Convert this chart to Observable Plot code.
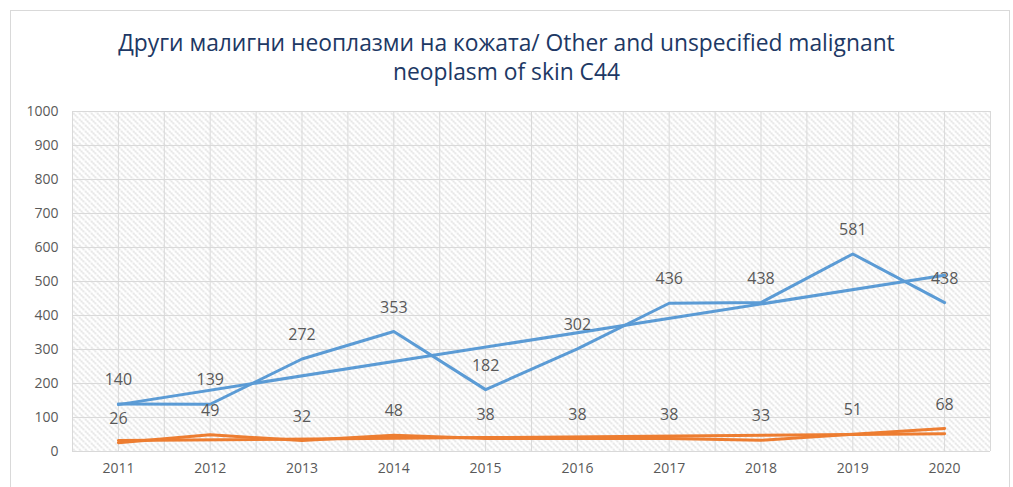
<!DOCTYPE html>
<html>
<head>
<meta charset="utf-8">
<script src="https://cdn.jsdelivr.net/npm/d3@7"></script>
<script src="https://cdn.jsdelivr.net/npm/@observablehq/plot@0.6"></script>
<style>
  html, body { margin: 0; padding: 0; background: #fff; }
  body { width: 1013px; height: 487px; position: relative; overflow: hidden; font-family: "Open Sans", sans-serif; }
  #frame { position: absolute; left: 10px; top: 10px; width: 1000px; height: 500px; border: 1px solid #d9d9d9; box-sizing: border-box; }
  #title { position: absolute; left: 0; top: 28px; width: 1013px; text-align: center; color: #203864; font-size: 22.8px; line-height: 29px; }
  #chart { position: absolute; left: 0; top: 100px; }
</style>
</head>
<body>
<div id="frame"></div>
<div id="title">Други малигни неоплазми на кожата/ Other and unspecified malignant<br>neoplasm of skin C44</div>
<div id="chart"></div>
<script>
const years = [2011, 2012, 2013, 2014, 2015, 2016, 2017, 2018, 2019, 2020];
const seriesA = [140, 139, 272, 353, 182, 302, 436, 438, 581, 438];
const seriesB = [26, 49, 32, 48, 38, 38, 38, 33, 51, 68];
const yTicks = [0, 100, 200, 300, 400, 500, 600, 700, 800, 900, 1000];

const dataA = years.map((y, i) => ({year: y, value: seriesA[i]}));
const dataB = years.map((y, i) => ({year: y, value: seriesB[i]}));
const vGrid = d3.range(years[0] - 0.5, years[years.length - 1] + 0.51, 0.5);

const blue = "#5B9BD5", orange = "#ED7D31", textGray = "#595959";

const chart = Plot.plot({
  width: 1013,
  height: 387,
  marginTop: 11,
  marginBottom: 36,
  marginLeft: 72,
  marginRight: 23,
  style: {fontFamily: "'Open Sans', sans-serif", background: "transparent"},
  x: {domain: [years[0] - 0.5, years[years.length - 1] + 0.5], label: null},
  y: {domain: [0, 1000], label: null},
  marks: [
    Plot.frame({fill: "url(#hatch)", stroke: null}),
    Plot.gridX(vGrid, {stroke: "#d9d9d9", strokeOpacity: 1}),
    Plot.gridY(yTicks, {stroke: "#d9d9d9", strokeOpacity: 1}),
    Plot.ruleY([0], {stroke: "#d9d9d9"}),
    Plot.axisX({ticks: years, tickFormat: d => String(d), tickSize: 0, tickPadding: 12, fontSize: 14, fill: textGray}),
    Plot.axisY({ticks: yTicks, tickFormat: d => String(d), tickSize: 0, tickPadding: 14, fontSize: 14, fill: textGray}),
    Plot.linearRegressionY(dataA, {x: "year", y: "value", stroke: blue, strokeWidth: 3, ci: 0}),
    Plot.line(dataA, {x: "year", y: "value", stroke: blue, strokeWidth: 3}),
    Plot.linearRegressionY(dataB, {x: "year", y: "value", stroke: orange, strokeWidth: 3, ci: 0}),
    Plot.line(dataB, {x: "year", y: "value", stroke: orange, strokeWidth: 3}),
    Plot.text(dataA, {x: "year", y: "value", text: d => String(d.value), dy: -24, fill: textGray, fontSize: 16}),
    Plot.text(dataB, {x: "year", y: "value", text: d => String(d.value), dy: -24, fill: textGray, fontSize: 16})
  ]
});

const ns = "http://www.w3.org/2000/svg";
const defs = document.createElementNS(ns, "defs");
defs.innerHTML = '<pattern id="hatch" patternUnits="userSpaceOnUse" width="6" height="6">' +
  '<rect width="6" height="6" fill="#ffffff"/>' +
  '<path d="M-1,-1 L7,7 M-1,5 L1,7 M5,-1 L7,1" stroke="#cfcfcf" stroke-width="1.4" stroke-dasharray="1.5,1"/>' +
  '</pattern>';
chart.insertBefore(defs, chart.firstChild);
document.getElementById("chart").appendChild(chart);
</script>
</body>
</html>
